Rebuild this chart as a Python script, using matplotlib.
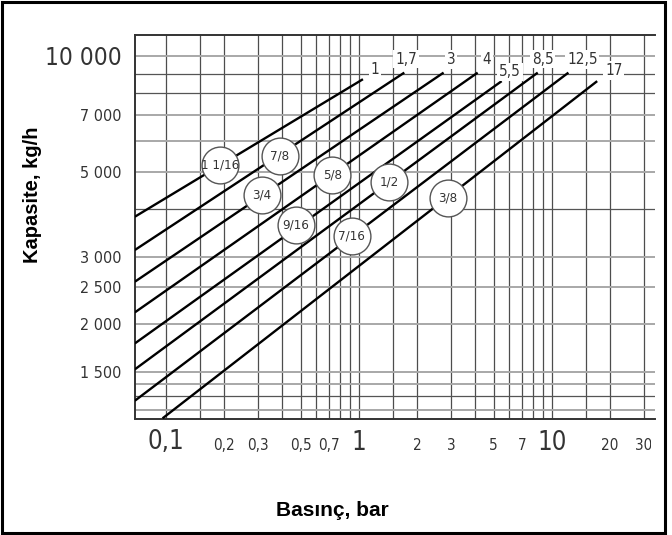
import matplotlib.pyplot as plt
from matplotlib.patches import Rectangle

# pipe sizes (badges) and max pressure labels at the end of each line
sizes = ["1 1/16", "7/8", "3/4", "5/8", "9/16", "1/2", "7/16", "3/8"]
max_bar = ["1", "1,7", "3", "4", "5,5", "8,5", "12,5", "17"]

# line endpoints (pressure bar, capacity kg/h)
start_p = [0.069, 0.069, 0.069, 0.069, 0.069, 0.069, 0.069, 0.096]
start_cap = [3815, 3125, 2584, 2150, 1785, 1528, 1266, 1139]
end_p = [1.05, 1.72, 2.75, 4.13, 5.5, 8.46, 12.2, 17.2]
end_cap = [8700, 9050, 9050, 9050, 8600, 9050, 9050, 8600]

# where the size badges sit
badge_p = [0.19, 0.39, 0.315, 0.73, 0.47, 1.44, 0.92, 2.89]
badge_cap = [5200, 5490, 4350, 4900, 3630, 4710, 3400, 4260]

x_ticks = [0.1, 0.2, 0.3, 0.5, 0.7, 1, 2, 3, 5, 7, 10, 20, 30]
x_labels = ["0,1", "0,2", "0,3", "0,5", "0,7", "1", "2", "3", "5", "7", "10", "20", "30"]
y_ticks = [10000, 7000, 5000, 3000, 2500, 2000, 1500]
y_labels = ["10 000", "7 000", "5 000", "3 000", "2 500", "2 000", "1 500"]

x_grid = [0.1, 0.15, 0.2, 0.3, 0.4, 0.5, 0.6, 0.7, 0.8, 0.9,
          1, 1.5, 2, 3, 4, 5, 6, 7, 8, 9, 10, 15, 20, 30]
y_grid = [1200, 1300, 1400, 1500, 2000, 2500, 3000, 4000,
          5000, 6000, 7000, 8000, 9000, 10000]
y_grid_dark = [1300, 4000, 8000, 9000]

W, H = 672, 535
narrow = dict(family="DejaVu Sans", stretch="condensed")
bold = ["Liberation Sans", "DejaVu Sans"]

fig = plt.figure(figsize=(W / 100, H / 100), dpi=100)
ax = fig.add_axes([135 / W, 1 - 418.5 / H, 520 / W, 383.5 / H])
ax.set_xscale("log")
ax.set_yscale("log")
ax.set_xlim(0.0691, 34.3)
ax.set_ylim(1138, 11340)
ax.tick_params(which="both", length=0, labelbottom=False, labelleft=False)

for v in x_grid:
    ax.axvline(v, color="#4d4d4d", lw=0.9, zorder=1)
for v in y_grid:
    if v in y_grid_dark:
        ax.axhline(v, color="#555555", lw=0.9, zorder=1)
    else:
        ax.axhline(v, color="#a8a8a8", lw=1.4, zorder=1)

for side in ["left", "bottom", "top"]:
    ax.spines[side].set_color("#333333")
    ax.spines[side].set_linewidth(1.4)
ax.spines["right"].set_visible(False)

# capacity lines
for i in range(len(sizes)):
    ax.plot([start_p[i], end_p[i]], [start_cap[i], end_cap[i]],
            color="black", lw=1.7, solid_capstyle="butt", zorder=3)

# max pressure labels at line ends
offsets = [(11.7, 9.3), (1.7, 13.4), (7.4, 13), (9, 13.4),
           (8.4, 9.3), (5, 13.4), (14, 13), (16.6, 10.7)]
for i, lbl in enumerate(max_bar):
    ax.annotate(lbl, (end_p[i], end_cap[i]), xytext=offsets[i],
                textcoords="offset pixels", ha="center", va="center",
                fontsize=11, color="#333333", zorder=5,
                bbox=dict(fc="white", ec="none", pad=1.2), **narrow)

# size badges
ax.plot(badge_p, badge_cap, "o", ms=26.5, mfc="white", mec="#555555",
        mew=1.0, zorder=4)
for p, c, s in zip(badge_p, badge_cap, sizes):
    ax.text(p, c, s, ha="center", va="center", fontsize=9.5,
            color="#333333", zorder=5, **narrow)

# tick labels
clip = Rectangle((0, 0), 651 / W, 1, transform=fig.transFigure)
for v, t in zip(x_ticks, x_labels):
    big = t in ("0,1", "1", "10")
    txt = ax.text(v, -31 / 383.5, t, transform=ax.get_xaxis_transform(),
                  ha="center", va="baseline", fontsize=18.5 if big else 11,
                  color="#333333", **narrow)
    txt.set_clip_on(True)
    txt.set_clip_path(clip)
for v, t in zip(y_ticks, y_labels):
    ax.text(-13.5 / 520, v, t, transform=ax.get_yaxis_transform(),
            ha="right", va="center_baseline",
            fontsize=17.5 if t == "10 000" else 11.5,
            color="#333333", clip_on=False, **narrow)

fig.text(32 / W, 1 - 194.5 / H, "Kapasite, kg/h", rotation=90,
         ha="center", va="center", fontsize=14.5, fontweight="bold",
         family=bold)
fig.text(332 / W, 1 - 511 / H, "Basınç, bar", ha="center", va="center",
         fontsize=15, fontweight="bold", family=bold)

# outer frame
fig.add_artist(Rectangle((2 / W, 2 / H), 662.5 / W, 531 / H,
                         transform=fig.transFigure, fill=False,
                         ec="black", lw=2.2))

fig.savefig("out.png", dpi=100)
